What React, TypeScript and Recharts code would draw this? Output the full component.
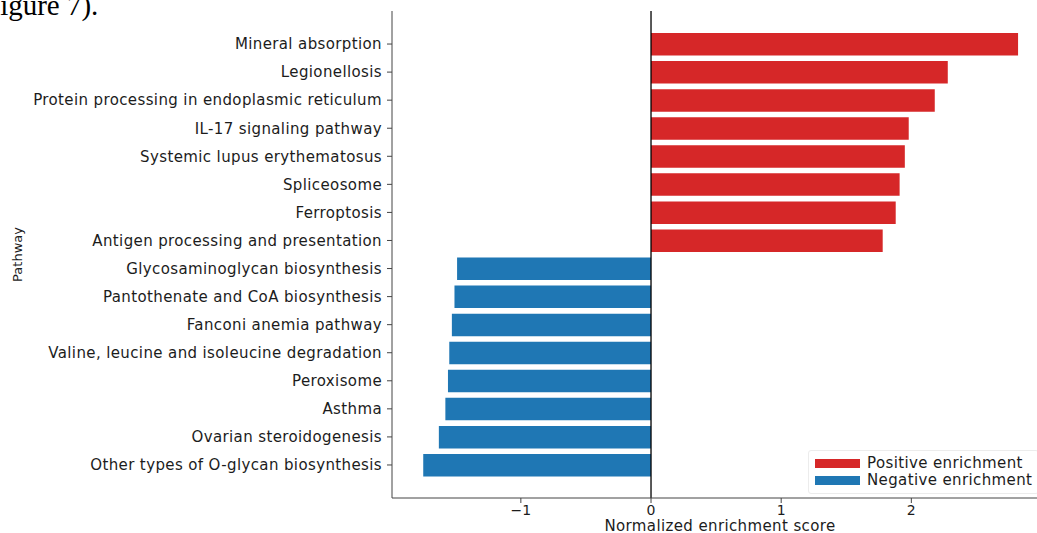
import React from "react";
import {
  BarChart,
  Bar,
  XAxis,
  YAxis,
  Cell,
  ReferenceLine,
} from "recharts";

// KEGG pathways, top to bottom
const pathways = [
  "Mineral absorption",
  "Legionellosis",
  "Protein processing in endoplasmic reticulum",
  "IL-17 signaling pathway",
  "Systemic lupus erythematosus",
  "Spliceosome",
  "Ferroptosis",
  "Antigen processing and presentation",
  "Glycosaminoglycan biosynthesis",
  "Pantothenate and CoA biosynthesis",
  "Fanconi anemia pathway",
  "Valine, leucine and isoleucine degradation",
  "Peroxisome",
  "Asthma",
  "Ovarian steroidogenesis",
  "Other types of O-glycan biosynthesis",
];

// Normalized enrichment score per pathway
const nes = [
  2.82, 2.28, 2.18, 1.98, 1.95, 1.91, 1.88, 1.78,
  -1.49, -1.51, -1.53, -1.55, -1.56, -1.58, -1.63, -1.75,
];

const xTicks = [-1, 0, 1, 2, 3];
const xDomain = [-1.99, 3.05];

const legendLabels = ["Positive enrichment", "Negative enrichment"];
const POS = "#d62728";
const NEG = "#1f77b4";

const data = pathways.map((name, i) => ({ name, nes: nes[i] }));

const FONT = "'DejaVu Sans', Verdana, sans-serif";
const INK = "#1c1c1c";
const SPACING = 0.38;

const fmtTick = (v: number) => (v < 0 ? `\u2212${Math.abs(v)}` : `${v}`);

function LegendBox() {
  const colors = [POS, NEG];
  return (
    <div
      style={{
        position: "absolute",
        left: 808,
        top: 450,
        fontFamily: FONT,
        fontSize: 15,
        letterSpacing: SPACING,
        color: INK,
        background: "rgba(255,255,255,0.8)",
        border: "1px solid #ececec",
        borderRadius: 3,
        padding: "4px 6px 4px 6px",
        lineHeight: "17px",
      }}
    >
      {legendLabels.map((label, i) => (
        <div key={label} style={{ display: "flex", alignItems: "center" }}>
          <span
            style={{
              display: "inline-block",
              width: 45,
              height: 9,
              background: colors[i],
              marginRight: 7,
            }}
          />
          <span style={{ whiteSpace: "nowrap" }}>{label}</span>
        </div>
      ))}
    </div>
  );
}

export default function App() {
  return (
    <div
      style={{
        position: "fixed",
        left: 0,
        top: 0,
        width: 1037,
        height: 533,
        overflow: "hidden",
        background: "#fff",
      }}
    >
      <svg
        width={200}
        height={40}
        style={{ position: "absolute", left: 0, top: 0 }}
      >
        <text
          x={-16}
          y={15}
          fontFamily="'Liberation Serif', 'Times New Roman', serif"
          fontSize={29}
          fill="#000"
        >
          Figure 7).
        </text>
      </svg>
      <BarChart
        width={1060}
        height={533}
        data={data}
        layout="vertical"
        margin={{ top: 11, right: 12, bottom: 0, left: 0 }}
        barSize={22.5}
        style={{ position: "absolute", left: 0, top: 0 }}
      >
        <XAxis
          type="number"
          dataKey="nes"
          domain={xDomain}
          ticks={xTicks}
          allowDataOverflow
          height={35}
          tickFormatter={fmtTick}
          tickSize={5}
          tickMargin={2}
          axisLine={{ stroke: "#444", strokeWidth: 1 }}
          tickLine={{ stroke: "#444", strokeWidth: 1 }}
          tick={{ fill: INK, fontSize: 14, fontFamily: FONT }}
          label={(props: any) => {
            const vb = props.viewBox || {};
            return (
              <text
                x={vb.x + vb.width / 2}
                y={531}
                textAnchor="middle"
                fill={INK}
                fontSize={15}
                fontFamily={FONT}
                letterSpacing={SPACING}
              >
                Normalized enrichment score
              </text>
            );
          }}
        />
        <YAxis
          type="category"
          dataKey="name"
          width={392}
          interval={0}
          padding={{ top: 19, bottom: 19 }}
          tickSize={5}
          tickMargin={5}
          axisLine={{ stroke: "#444", strokeWidth: 1 }}
          tickLine={{ stroke: "#444", strokeWidth: 1 }}
          tick={{ fill: INK, fontSize: 15, fontFamily: FONT, letterSpacing: SPACING }}
          label={(props: any) => {
            const vb = props.viewBox || {};
            const cy = vb.y + vb.height / 2;
            return (
              <text
                x={22}
                y={cy}
                transform={`rotate(-90, 22, ${cy})`}
                textAnchor="middle"
                fill={INK}
                fontSize={13}
                fontFamily={FONT}
              >
                Pathway
              </text>
            );
          }}
        />
        <Bar dataKey="nes" isAnimationActive={false}>
          {data.map((d) => (
            <Cell key={d.name} fill={d.nes >= 0 ? POS : NEG} />
          ))}
        </Bar>
        <ReferenceLine x={0} stroke="#000" strokeWidth={1.3} />
      </BarChart>
      <LegendBox />
    </div>
  );
}
